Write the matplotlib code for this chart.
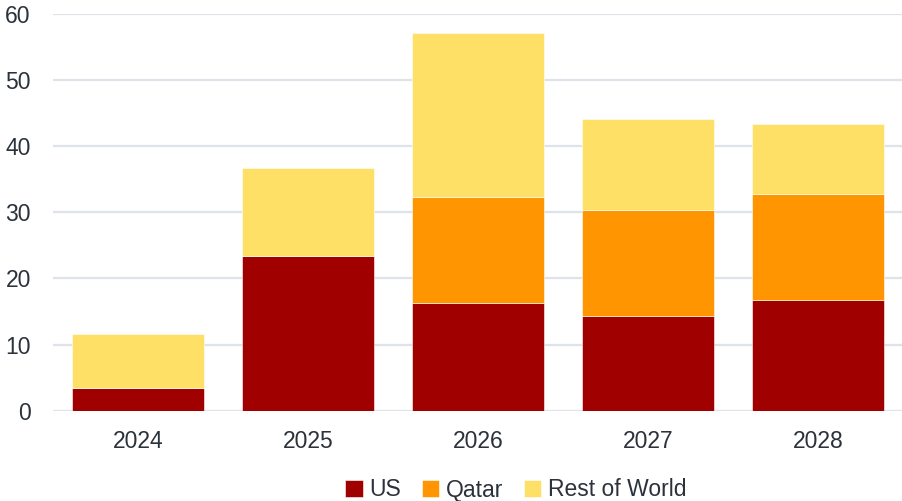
import matplotlib
matplotlib.use('Agg')
import matplotlib.pyplot as plt
import numpy as np

years = ['2024', '2025', '2026', '2027', '2028']
us = [3.4, 23.4, 16.3, 14.3, 16.7]
qatar = [0.0, 0.0, 16.0, 16.1, 16.1]
rest_of_world = [8.2, 13.3, 24.8, 13.7, 10.5]

plt.rcParams['font.family'] = ['Liberation Sans', 'DejaVu Sans']
text_col = '#2b323b'

fig = plt.figure(figsize=(9.03, 5.01), dpi=100)
ax = fig.add_axes([53/903, 1 - 410.7/501, 1 - 53/903, (410.7 - 14)/501])

x = np.arange(len(years))
w = 0.774
b1 = np.array(us)
b2 = b1 + np.array(qatar)

ax.bar(x, us, w, color='#a00000', edgecolor='white', linewidth=0.4, label='US', zorder=3)
ax.bar(x, qatar, w, bottom=b1, color='#ff9500', edgecolor='white', linewidth=0.4, label='Qatar', zorder=3)
ax.bar(x, rest_of_world, w, bottom=b2, color='#ffe066', edgecolor='white', linewidth=0.4, label='Rest of World', zorder=3)

ax.set_xlim(-0.5, 4.5)
ax.set_ylim(0, 60)
ax.set_yticks(range(0, 61, 10))
ax.set_xticks(x)
ax.set_xticklabels(years)
ax.grid(axis='y', color='#dce3eb', linewidth=1.6, zorder=0)
for s in ax.spines.values():
    s.set_visible(False)
ax.tick_params(axis='both', length=0, labelsize=16.5, labelcolor=text_col)
ax.tick_params(axis='x', pad=14)
ax.tick_params(axis='y', pad=16)

leg = fig.legend(loc='center', bbox_to_anchor=(516/903, 1 - 490/501), ncol=3, frameon=False,
                 fontsize=16.5, handlelength=0.75, handleheight=0.75, handletextpad=0.3,
                 columnspacing=0.9, labelcolor=text_col)

fig.savefig('out.png', dpi=100)
